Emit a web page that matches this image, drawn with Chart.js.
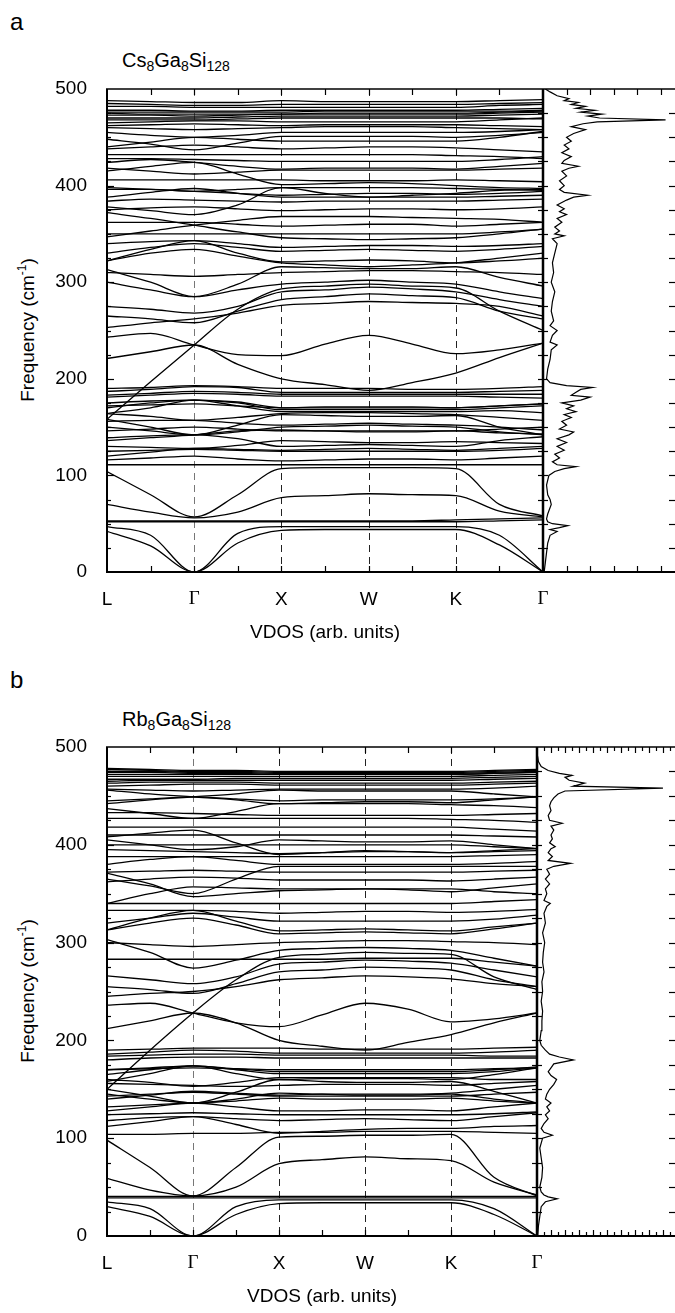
<!DOCTYPE html>
<html>
<head>
<meta charset="utf-8">
<script src="https://cdn.jsdelivr.net/npm/chart.js@4.4.0/dist/chart.umd.min.js"></script>
<style>
  body { margin:0; width:675px; height:1313px; overflow:hidden; background:#fff; position:relative;
         font-family:"Liberation Sans", Arial, sans-serif; color:#000; }
  .lbl { position:absolute; white-space:nowrap; line-height:1; }
  .letter { font-size:24px; left:10px; }
  .ttl { font-size:20px; left:122px; }
  .ttl sub { font-size:14px; vertical-align:-4px; line-height:0; }
  .ylab { font-size:19px; transform:translate(-50%,-50%) rotate(-90deg); }
  .ylab sup { font-size:12px; vertical-align:8px; line-height:0; }
  .panel { position:absolute; left:0; }
</style>
</head>
<body>
<div class="lbl letter" style="top:10px">a</div>
<div class="lbl ttl" style="top:50px">Cs<sub>8</sub>Ga<sub>8</sub>Si<sub>128</sub></div>
<div class="lbl ylab" style="left:27px; top:330px">Frequency (cm<sup>-1</sup>)</div>
<div class="panel" style="top:70px"><canvas id="chartA" width="675" height="590"></canvas></div>

<div class="lbl letter" style="top:668px">b</div>
<div class="lbl ttl" style="top:709px">Rb<sub>8</sub>Ga<sub>8</sub>Si<sub>128</sub></div>
<div class="lbl ylab" style="left:27px; top:991px">Frequency (cm<sup>-1</sup>)</div>
<div class="panel" style="top:728px"><canvas id="chartB" width="675" height="596"></canvas></div>

<script>
// k-path: L, Γ, X, W, K, Γ with midpoints
const kPath = [0, 0.5, 1, 1.5, 2, 2.5, 3, 3.5, 4, 4.5, 5];
const kLabels = ['L', 'Γ', 'X', 'W', 'K', 'Γ'];

// phonon branches (cm-1) at each kPath point, Cs8Ga8Si128
const bandsA = [
  [42, 27, 0, 30, 43, 44, 44, 44, 44, 28, 0],
  [47, 38, 0, 40, 47, 47, 47, 47, 47, 38, 0],
  [52, 52, 52, 52, 52, 52, 52, 52, 52, 53, 54],
  [53, 53, 53, 53, 53, 53, 53, 53, 54, 55, 56],
  [70, 62, 56, 62, 77, 79, 81, 80, 79, 63, 57],
  [104, 80, 57, 80, 107, 108, 108, 108, 107, 70, 58],
  [111, 111, 111, 111, 111, 111, 111, 111, 111, 111, 111],
  [116, 118, 120, 117, 115, 116, 117, 117, 116, 118, 120],
  [120, 124, 128, 127, 126, 127, 128, 127, 126, 128, 130],
  [125, 126, 127, 126, 125, 125, 125, 125, 125, 126, 128],
  [130, 129, 128, 131, 136, 135, 134, 134, 135, 134, 133],
  [139, 141, 142, 138, 130, 131, 132, 131, 130, 136, 140],
  [150, 146, 142, 145, 150, 151, 152, 151, 150, 145, 142],
  [158, 150, 142, 152, 163, 162, 161, 161, 162, 150, 142],
  [136, 139, 142, 146, 147, 146, 145, 145, 146, 144, 143],
  [146, 148, 150, 148, 146, 146, 146, 146, 146, 148, 150],
  [156, 157, 157, 154, 152, 153, 154, 153, 152, 150, 147],
  [164, 161, 157, 160, 164, 165, 165, 164, 163, 160, 157],
  [170, 175, 178, 172, 166, 166, 166, 166, 166, 167, 165],
  [164, 170, 178, 175, 168, 168, 168, 168, 168, 170, 172],
  [172, 173, 174, 172, 170, 170, 170, 170, 170, 172, 174],
  [175, 177, 178, 176, 170, 171, 171, 171, 170, 172, 174],
  [181, 183, 185, 184, 182, 182, 182, 182, 182, 181, 180],
  [183, 185, 187, 186, 184, 184, 184, 184, 184, 184, 184],
  [187, 189, 192, 191, 186, 186, 186, 186, 186, 187, 188],
  [190, 191, 193, 192, 190, 190, 190, 189, 189, 190, 192],
  [221, 228, 235, 215, 200, 194, 188, 196, 206, 222, 237],
  [243, 247, 235, 225, 224, 236, 245, 236, 226, 230, 237],
  [158, 197, 235, 272, 293, 296, 298, 296, 294, 270, 250],
  [265, 262, 258, 270, 282, 285, 288, 286, 284, 270, 262],
  [313, 300, 285, 292, 298, 300, 302, 300, 298, 290, 283],
  [300, 292, 285, 298, 316, 315, 314, 314, 316, 305, 296],
  [275, 272, 268, 275, 290, 292, 295, 293, 290, 282, 275],
  [310, 308, 306, 308, 310, 311, 312, 312, 311, 310, 308],
  [322, 334, 343, 330, 321, 322, 323, 322, 320, 322, 325],
  [322, 330, 334, 327, 320, 318, 316, 318, 320, 325, 330],
  [253, 258, 262, 268, 276, 278, 280, 279, 278, 275, 265],
  [340, 342, 343, 340, 336, 337, 338, 338, 337, 338, 340],
  [350, 350, 350, 350, 350, 350, 350, 350, 350, 352, 355],
  [347, 353, 359, 364, 368, 368, 368, 367, 366, 365, 362],
  [372, 366, 359, 352, 346, 345, 344, 345, 346, 350, 355],
  [375, 377, 378, 376, 374, 375, 376, 376, 375, 376, 378],
  [378, 374, 370, 380, 398, 392, 388, 390, 392, 395, 396],
  [388, 393, 397, 392, 388, 388, 388, 388, 388, 389, 390],
  [398, 396, 394, 392, 390, 391, 392, 392, 391, 392, 394],
  [406, 406, 406, 406, 406, 405, 405, 405, 406, 405, 404],
  [415, 420, 424, 412, 401, 402, 403, 402, 400, 398, 397],
  [384, 386, 385, 384, 383, 384, 384, 384, 384, 385, 386],
  [330, 336, 340, 336, 332, 333, 334, 333, 332, 334, 337],
  [362, 362, 362, 360, 358, 359, 360, 360, 358, 360, 362],
  [428, 428, 427, 426, 425, 425, 425, 425, 425, 427, 430],
  [432, 432, 432, 432, 432, 432, 432, 432, 431, 430, 428],
  [438, 440, 442, 440, 438, 439, 440, 440, 439, 437, 435],
  [448, 443, 437, 444, 451, 451, 451, 451, 450, 452, 455],
  [440, 445, 450, 448, 446, 446, 446, 446, 446, 450, 456],
  [455, 452, 450, 452, 455, 455, 455, 455, 455, 456, 458],
  [460, 459, 458, 459, 460, 461, 461, 461, 460, 459, 458],
  [462, 463, 464, 463, 462, 463, 463, 463, 463, 462, 461],
  [465, 466, 467, 467, 466, 466, 466, 466, 466, 468, 470],
  [468, 468, 468, 469, 470, 470, 470, 470, 470, 470, 469],
  [470, 470, 470, 471, 472, 472, 472, 472, 472, 473, 474],
  [473, 473, 472, 473, 474, 474, 474, 474, 474, 475, 476],
  [475, 474, 474, 474, 474, 475, 475, 475, 475, 476, 477],
  [476, 476, 476, 476, 476, 477, 477, 477, 477, 477, 478],
  [478, 478, 477, 477, 478, 478, 478, 478, 478, 479, 480],
  [482, 482, 481, 481, 481, 481, 481, 481, 481, 483, 484],
  [485, 484, 483, 483, 484, 484, 484, 484, 484, 485, 486],
  [488, 487, 486, 486, 488, 487, 487, 487, 487, 488, 489],
  [424, 427, 424, 420, 417, 418, 418, 418, 417, 420, 423],
  [418, 415, 412, 414, 416, 416, 416, 416, 416, 417, 418],
  [396, 396, 394, 396, 398, 398, 398, 398, 397, 396, 395]
];

// phonon branches, Rb8Ga8Si128
const bandsB = [
  [30, 20, 0, 22, 33, 34, 34, 34, 34, 22, 0],
  [35, 28, 0, 30, 37, 37, 37, 37, 37, 28, 0],
  [39, 39, 39, 39, 39, 39, 39, 39, 39, 39, 39],
  [40.5, 40.5, 40.5, 40.5, 40.5, 40.5, 40.5, 40.5, 40.5, 40.5, 40.5],
  [59, 47, 41, 50, 74, 78, 81, 79, 77, 55, 42],
  [98, 70, 41, 70, 101, 102, 103, 103, 104, 60, 41],
  [104, 104, 105, 105, 106, 106, 107, 107, 107, 106, 105],
  [112, 117, 122, 114, 105, 107, 109, 110, 110, 112, 113],
  [118, 121, 122, 120, 118, 119, 120, 119, 118, 122, 126],
  [124, 125, 126, 125, 124, 124, 124, 124, 124, 125, 127],
  [128, 132, 136, 132, 128, 128, 129, 129, 128, 132, 136],
  [132, 134, 136, 138, 141, 140, 140, 140, 141, 138, 136],
  [143, 145, 147, 145, 143, 143, 143, 143, 143, 145, 147],
  [145, 140, 136, 140, 146, 145, 144, 144, 145, 140, 136],
  [150, 143, 136, 147, 160, 158, 157, 157, 158, 148, 136],
  [140, 144, 148, 146, 144, 145, 145, 145, 146, 150, 154],
  [156, 155, 154, 153, 154, 155, 155, 155, 154, 156, 158],
  [160, 157, 153, 157, 162, 162, 162, 162, 162, 160, 160],
  [165, 170, 174, 166, 160, 161, 161, 161, 160, 165, 172],
  [158, 166, 174, 170, 166, 166, 166, 166, 166, 168, 172],
  [170, 171, 172, 171, 170, 170, 170, 170, 170, 171, 172],
  [170, 172, 174, 171, 168, 168, 168, 168, 168, 170, 173],
  [180, 182, 183, 183, 182, 182, 182, 182, 182, 182, 182],
  [184, 185, 186, 186, 185, 185, 185, 185, 185, 184, 184],
  [186, 188, 190, 189, 187, 187, 187, 187, 187, 188, 190],
  [190, 191, 192, 192, 192, 191, 191, 191, 191, 192, 193],
  [212, 220, 228, 218, 200, 194, 190, 198, 206, 218, 228],
  [236, 238, 228, 218, 214, 226, 238, 232, 219, 222, 228],
  [150, 190, 228, 262, 285, 288, 290, 289, 288, 265, 252],
  [255, 252, 248, 258, 270, 272, 275, 274, 272, 262, 255],
  [303, 290, 274, 282, 292, 294, 295, 294, 292, 284, 276],
  [283, 283, 283, 283, 283, 283, 284, 284, 284, 280, 276],
  [266, 262, 258, 265, 278, 280, 282, 281, 279, 272, 265],
  [300, 298, 296, 298, 300, 301, 302, 302, 301, 300, 298],
  [313, 325, 333, 322, 312, 313, 314, 313, 312, 316, 320],
  [313, 320, 325, 318, 309, 310, 311, 310, 309, 314, 320],
  [245, 248, 250, 255, 262, 264, 266, 265, 263, 258, 255],
  [333, 333, 333, 332, 330, 331, 332, 332, 331, 332, 334],
  [340, 340, 340, 340, 340, 340, 340, 340, 340, 342, 344],
  [340, 350, 357, 356, 355, 355, 355, 355, 355, 352, 350],
  [371, 360, 347, 350, 353, 354, 355, 354, 352, 356, 360],
  [372, 373, 374, 373, 372, 372, 372, 372, 372, 373, 374],
  [365, 358, 350, 365, 378, 378, 378, 378, 378, 378, 378],
  [380, 385, 388, 384, 380, 380, 380, 380, 380, 381, 383],
  [388, 388, 388, 388, 388, 388, 388, 388, 388, 389, 390],
  [395, 394, 393, 392, 391, 392, 393, 393, 392, 393, 394],
  [408, 412, 415, 402, 390, 392, 394, 393, 392, 394, 396],
  [405, 400, 395, 398, 405, 404, 403, 403, 404, 400, 396],
  [320, 325, 330, 326, 322, 322, 322, 322, 322, 324, 328],
  [362, 365, 367, 366, 364, 364, 364, 364, 363, 365, 367],
  [400, 400, 400, 400, 400, 400, 400, 400, 400, 398, 396],
  [410, 410, 410, 410, 410, 410, 410, 410, 410, 409, 408],
  [418, 418, 418, 418, 418, 418, 418, 418, 418, 416, 414],
  [427, 427, 427, 427, 427, 427, 427, 427, 426, 425, 423],
  [433, 433, 432, 431, 430, 430, 430, 430, 430, 431, 432],
  [437, 432, 427, 434, 442, 442, 442, 442, 441, 440, 438],
  [445, 447, 449, 447, 445, 446, 446, 446, 446, 447, 449],
  [456, 452, 449, 446, 442, 443, 444, 444, 443, 446, 449],
  [442, 446, 449, 452, 456, 455, 455, 455, 455, 452, 449],
  [457, 456, 455, 456, 457, 457, 457, 457, 457, 458, 460],
  [460, 461, 462, 462, 461, 461, 461, 461, 461, 462, 463],
  [463, 464, 464, 464, 463, 463, 463, 463, 463, 464, 465],
  [465, 466, 466, 466, 466, 466, 466, 466, 466, 467, 468],
  [467, 467, 467, 468, 468, 468, 468, 468, 468, 469, 470],
  [470, 470, 470, 470, 470, 470, 470, 470, 470, 471, 472],
  [472, 472, 472, 472, 472, 472, 472, 472, 472, 473, 474],
  [474, 474, 473, 473, 472, 472, 472, 472, 472, 473, 474],
  [475, 475, 474, 474, 473, 473, 473, 473, 473, 474, 475],
  [477, 476, 475, 475, 474, 474, 474, 474, 474, 475, 476],
  [478, 477, 476, 476, 475, 475, 475, 475, 475, 476, 477]
];

// VDOS, Cs8Ga8Si128: frequency (cm-1) and density (arb. units)
const vdosFreqA = [
  0, 10, 20, 30, 38, 42, 44, 46, 48, 50,
  52, 55, 60, 70, 75, 80, 90, 100, 104, 107,
  109, 111, 114, 118, 122, 126, 130, 134, 138, 142,
  145, 148, 152, 156, 160, 163, 166, 169, 172, 175,
  178, 181, 183, 186, 189, 191, 193, 196, 200, 210,
  220, 230, 235, 238, 245, 250, 255, 260, 270, 280,
  290, 300, 310, 320, 330, 340, 345, 348, 350, 353,
  357, 362, 366, 370, 373, 376, 380, 385, 388, 390,
  393, 396, 400, 405, 410, 415, 418, 420, 423, 426,
  430, 434, 438, 442, 446, 450, 454, 458, 461, 464,
  466, 468, 470, 472, 474, 476, 478, 480, 482, 484,
  486, 488, 490, 493, 497, 500
];
const vdosA = [
  0.05, 0.1, 0.15, 0.2, 0.3, 0.6, 0.3, 0.7, 1.05, 0.4,
  0.2, 0.15, 0.2, 0.35, 0.3, 0.2, 0.15, 0.25, 0.5, 0.9,
  1.4, 0.6, 0.4, 0.7, 0.5, 0.9, 0.6, 1.0, 0.6, 1.1,
  1.3, 0.7, 1.0, 0.8, 1.2, 0.9, 1.4, 1.0, 1.3, 0.8,
  1.6, 2.0, 1.2, 1.4, 1.6, 2.1, 1.0, 0.3, 0.15, 0.2,
  0.3, 0.35, 0.6, 0.3, 0.4, 0.6, 0.3, 0.45, 0.35, 0.4,
  0.5, 0.35, 0.45, 0.4, 0.5, 0.6, 0.4, 0.9, 0.5, 0.7,
  0.5, 0.8, 0.6, 1.0, 0.7, 0.9, 0.6, 1.0, 1.3, 1.9,
  0.9, 0.7, 0.9, 0.7, 1.0, 0.8, 1.1, 1.5, 0.8, 0.9,
  1.2, 0.8, 1.1, 0.9, 1.2, 1.0, 1.3, 1.8, 1.2, 1.7,
  2.3, 5.2, 2.4, 1.9, 2.5, 1.6, 2.2, 1.4, 1.8, 1.2,
  1.5, 0.9, 1.1, 0.6, 0.3, 0.1
];

// VDOS, Rb8Ga8Si128
const vdosFreqB = [
  0, 10, 20, 30, 35, 38, 40, 42, 45, 50,
  60, 70, 80, 90, 100, 103, 106, 110, 115, 120,
  124, 128, 132, 136, 140, 145, 150, 155, 160, 164,
  168, 172, 176, 180, 183, 186, 190, 195, 200, 210,
  220, 230, 240, 250, 260, 270, 280, 290, 300, 310,
  320, 330, 337, 340, 343, 350, 355, 360, 365, 370,
  375, 378, 381, 384, 388, 392, 396, 398, 402, 406,
  410, 415, 419, 422, 425, 430, 435, 440, 444, 448,
  452, 455, 458, 460, 463, 466, 469, 471, 473, 476,
  480, 485, 490, 500
];
const vdosB = [
  0.05, 0.1, 0.2, 0.3, 0.6, 1.45, 0.8, 0.5, 0.3, 0.2,
  0.35, 0.4, 0.3, 0.2, 0.4, 1.1, 0.5, 0.3, 0.5, 0.8,
  0.6, 0.9, 0.7, 1.0, 0.6, 0.7, 0.9, 1.2, 1.4, 1.0,
  0.8, 1.0, 1.2, 2.6, 1.6, 0.9, 0.6, 0.3, 0.2, 0.3,
  0.35, 0.4, 0.3, 0.4, 0.35, 0.5, 0.4, 0.45, 0.55, 0.4,
  0.6, 0.5, 0.7, 0.95, 0.5, 0.7, 0.6, 0.9, 0.6, 0.9,
  0.7, 1.2, 2.4, 0.8, 1.1, 0.8, 1.0, 1.3, 0.9, 1.1,
  1.0, 1.2, 1.0, 1.8, 0.9, 0.8, 1.0, 0.9, 1.0, 1.2,
  1.5, 2.0, 9.0, 2.6, 3.4, 2.3, 2.0, 2.5, 1.6, 0.8,
  0.3, 0.1, 0.05, 0
];

const freqTicks = [0, 100, 200, 300, 400, 500];

// dashed lines behind bands, frame and inward ticks on top
const framePlugin = {
  id: 'frame',
  beforeDatasetsDraw(chart) {
    const {ctx, chartArea: ca, scales: {x}} = chart;
    ctx.save();
    ctx.setLineDash([7, 5]);
    ctx.lineWidth = 1;
    for (let k = 1; k <= 4; k++) {
      const px = Math.round(x.getPixelForValue(k)) + 0.5;
      ctx.strokeStyle = k === 1 ? '#777' : '#222';
      ctx.beginPath();
      ctx.moveTo(px, ca.top);
      ctx.lineTo(px, ca.bottom);
      ctx.stroke();
    }
    ctx.restore();
  },
  afterDatasetsDraw(chart, args, opts) {
    const {ctx, chartArea: ca, scales: {x, xd, y}} = chart;
    const seg = (x1, y1, x2, y2) => { ctx.beginPath(); ctx.moveTo(x1, y1); ctx.lineTo(x2, y2); ctx.stroke(); };
    ctx.save();
    ctx.strokeStyle = '#000';
    ctx.lineCap = 'butt';
    // frame
    ctx.lineWidth = 2;
    seg(ca.left, ca.top, ca.left, ca.bottom);
    seg(ca.left - 1, ca.bottom, ca.right, ca.bottom);
    ctx.lineWidth = 1.5;
    seg(ca.left - 1, ca.top, ca.right, ca.top);
    ctx.lineWidth = 2.5;
    seg(x.right, ca.top, x.right, ca.bottom);
    // frequency ticks
    ctx.lineWidth = 1.2;
    for (let v = 25; v < 500; v += 25) {
      const py = Math.round(y.getPixelForValue(v)) + 0.5;
      const len = v % 100 === 0 ? 7 : 4;
      seg(ca.left, py, ca.left + len, py);
      seg(x.right - 5, py, x.right + 5, py);
      seg(ca.right, py, ca.right - 6, py);
    }
    // k-path ticks
    for (let k = 0.5; k < 5; k += 0.5) {
      const px = Math.round(x.getPixelForValue(k)) + 0.5;
      seg(px, ca.bottom, px, ca.bottom - 6);
      seg(px, ca.top, px, ca.top + 6);
    }
    // VDOS ticks
    for (let d = opts.dosStep; d < xd.max; d += opts.dosStep) {
      const px = Math.round(xd.getPixelForValue(d)) + 0.5;
      const len = Math.abs(d - Math.round(d)) < 1e-6 ? 6 : 4;
      seg(px, ca.bottom, px, ca.bottom - len);
      seg(px, ca.top, px, ca.top + len);
    }
    ctx.restore();
  }
};

function makePanel(id, bands, vdosFreq, vdos, dosMax, dosStep, kWeight, dosWeight) {
  const datasets = bands.map(b => ({
    data: b.map((f, i) => ({x: kPath[i], y: f})),
    xAxisID: 'x',
    yAxisID: 'y',
    borderColor: '#000',
    borderWidth: 1.3,
    pointRadius: 0,
    cubicInterpolationMode: 'monotone',
    fill: false
  }));
  datasets.push({
    data: vdosFreq.map((f, i) => ({x: vdos[i], y: f})),
    xAxisID: 'xd',
    yAxisID: 'y',
    borderColor: '#000',
    borderWidth: 1.2,
    pointRadius: 0,
    tension: 0,
    fill: false
  });

  new Chart(document.getElementById(id), {
    type: 'line',
    data: {datasets},
    options: {
      responsive: false,
      animation: false,
      devicePixelRatio: 1,
      events: [],
      layout: {padding: {left: 0, right: 0, top: 19, bottom: 0}},
      plugins: {legend: {display: false}, tooltip: {enabled: false}, frame: {dosStep}},
      scales: {
        x: {
          type: 'linear',
          position: 'bottom',
          stack: 'k',
          stackWeight: kWeight,
          min: 0,
          max: 5,
          grid: {display: false, drawTicks: false, tickLength: 0},
          border: {display: false},
          ticks: {
            stepSize: 0.5,
            autoSkip: false,
            maxRotation: 0,
            padding: 16,
            color: '#000',
            font: ctx => (ctx.tick && (ctx.tick.value === 1 || ctx.tick.value === 5))
              ? {family: '"Liberation Serif", "Times New Roman", serif', size: 19}
              : {family: '"Liberation Sans", Arial, sans-serif', size: 19},
            callback: v => Number.isInteger(v) ? kLabels[v] : ''
          },
          title: {
            display: true,
            text: 'VDOS (arb. units)',
            color: '#000',
            font: {family: '"Liberation Sans", Arial, sans-serif', size: 19},
            padding: {top: 0, bottom: 16}
          },
          afterFit: s => { s.height = 88; s.paddingLeft = 0; s.paddingRight = 0; }
        },
        xd: {
          type: 'linear',
          position: 'bottom',
          stack: 'k',
          stackWeight: dosWeight,
          min: 0,
          max: dosMax,
          grid: {display: false, drawTicks: false, tickLength: 0},
          border: {display: false},
          ticks: {display: false},
          afterFit: s => { s.height = 88; s.paddingLeft = 0; s.paddingRight = 0; }
        },
        y: {
          type: 'linear',
          position: 'left',
          min: 0,
          max: 500,
          grid: {display: false, drawTicks: false, tickLength: 0},
          border: {display: false},
          afterBuildTicks: s => { s.ticks = freqTicks.map(v => ({value: v})); },
          ticks: {
            padding: 20,
            color: '#000',
            font: {family: '"Liberation Sans", Arial, sans-serif', size: 19}
          },
          afterFit: s => { s.width = 107; s.paddingTop = 0; s.paddingBottom = 0; }
        }
      }
    },
    plugins: [framePlugin]
  });
}

makePanel('chartA', bandsA, vdosFreqA, vdosA, 5.6, 1, 436, 132);
makePanel('chartB', bandsB, vdosFreqB, vdosB, 9.86, 0.5, 430, 138);
</script>
</body>
</html>
